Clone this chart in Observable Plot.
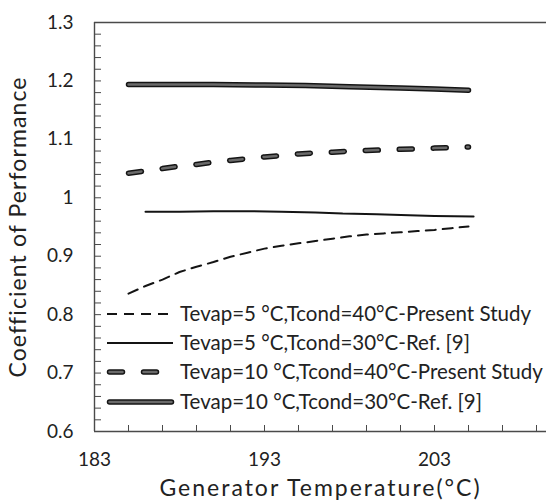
<!DOCTYPE html>
<html><head><meta charset="utf-8">
<script src="https://cdn.jsdelivr.net/npm/d3@7"></script>
<script src="https://cdn.jsdelivr.net/npm/@observablehq/plot@0.6"></script>
<style>
body{margin:0;background:#fff}
#chart{position:relative;width:546px;height:504px;overflow:hidden}
#legend{position:absolute;left:0;top:0}
</style>
</head><body><div id="chart"></div>
<script>
// Present study (Tcond = 40 °C)
const genTemp = [185,186,187,188,189,190,191,192,193,194,195,196,197,198,199,200,201,202,203,204,205];
const copPresent5 = [0.836,0.849,0.860,0.873,0.882,0.890,0.899,0.906,0.913,0.918,0.922,0.926,0.930,0.934,0.937,0.939,0.941,0.943,0.945,0.948,0.951];
const copPresent10 = [1.042,1.046,1.050,1.054,1.057,1.061,1.064,1.067,1.070,1.072,1.075,1.077,1.078,1.080,1.081,1.082,1.083,1.084,1.085,1.086,1.087];
// Ref. [9] (Tcond = 30 °C)
const refTemp5 = [186,188,190,192,194,196,197.6,199.6,201.5,203,205.3];
const copRef5 = [0.976,0.976,0.977,0.977,0.976,0.975,0.973,0.972,0.970,0.969,0.968];
const refTemp10 = [185,190,193,195.4,198,201,203,205];
const copRef10 = [1.194,1.194,1.193,1.192,1.190,1.188,1.186,1.184];

const seriesLabels = [
  "Tevap=5 °C,Tcond=40°C-Present Study",
  "Tevap=5 °C,Tcond=30°C-Ref. [9]",
  "Tevap=10 °C,Tcond=40°C-Present Study",
  "Tevap=10 °C,Tcond=30°C-Ref. [9]"
];
const xTitle = "Generator Temperature(°C)";
const yTitle = "Coefficient of Performance";
const xTickValues = [183,193,203];
const xTickLabels = ["183","193","203"];
const xMinorTicks = [185,187,189,191,193,195,197,199,201,203,205,207,209];
const yTickValues = [0.6,0.7,0.8,0.9,1.0,1.1,1.2,1.3];
const yTickLabels = ["0.6","0.7","0.8","0.9","1","1.1","1.2","1.3"];
const yMinorTicks = d3.range(31, 65).map(i => i / 50);

const rows = (xs, ys) => xs.map((x, i) => ({x, y: ys[i]}));
const p5 = rows(genTemp, copPresent5);
const p10 = rows(genTemp, copPresent10);
const r5 = rows(refTemp5, copRef5);
const r10 = rows(refTemp10, copRef10);

const dark = "#141414", fill = "#6a6a6a", frameC = "#4a4a4a";
const thickDash = "13,21";

const plot = Plot.plot({
  width: 546, height: 504,
  marginLeft: 94, marginRight: 0, marginTop: 22, marginBottom: 73,
  style: {fontFamily: "Lato", fontSize: "19px", color: "#222", background: "white"},
  x: {domain: [183, 183 + 452 / 17]},
  y: {domain: [0.6, 1.3]},
  marks: [
    Plot.ruleY([1.3], {stroke: frameC, strokeWidth: 1.4}),
    Plot.ruleY([0.6], {stroke: frameC, strokeWidth: 1.4}),
    Plot.ruleX([183], {stroke: frameC, strokeWidth: 1.4}),
    Plot.axisX(xMinorTicks, {tickSize: -6, tickFormat: () => "", label: null, stroke: frameC}),
    Plot.axisX(xTickValues, {tickSize: 0, tickPadding: 21, tickFormat: d => xTickLabels[xTickValues.indexOf(d)], label: null, fill: "#222"}),
    Plot.axisY(yMinorTicks, {tickSize: -7, tickFormat: () => "", label: null, stroke: frameC}),
    Plot.axisY(yTickValues, {tickSize: 0, tickPadding: 21, tickFormat: d => yTickLabels[yTickValues.indexOf(d)], label: null, fill: "#222"}),
    Plot.text([xTitle], {frameAnchor: "bottom", textAnchor: "middle", lineAnchor: "middle", dy: 57, fontSize: 23, fill: "#222"}),
    Plot.text([yTitle], {frameAnchor: "left", textAnchor: "middle", lineAnchor: "middle", dx: -76, rotate: -90, fontSize: 23, fill: "#222"}),
    // thin dashed: Tevap=5, present
    Plot.line(p5, {x: "x", y: "y", stroke: dark, strokeWidth: 2, strokeDasharray: "10,7"}),
    // thin solid: Tevap=5, ref
    Plot.line(r5, {x: "x", y: "y", stroke: dark, strokeWidth: 2}),
    // thick dashed: Tevap=10, present
    Plot.line(p10, {x: "x", y: "y", stroke: dark, strokeWidth: 5.5, strokeDasharray: thickDash, strokeLinecap: "round"}),
    Plot.line(p10, {x: "x", y: "y", stroke: fill, strokeWidth: 2.5, strokeDasharray: thickDash, strokeLinecap: "round"}),
    // thick solid: Tevap=10, ref
    Plot.line(r10, {x: "x", y: "y", stroke: dark, strokeWidth: 5.5, strokeLinecap: "round"}),
    Plot.line(r10, {x: "x", y: "y", stroke: fill, strokeWidth: 2.5, strokeLinecap: "round"})
  ]
});
const chart = document.getElementById("chart");
chart.appendChild(plot);

// widen axis titles slightly (reference font is set wider)
d3.select(plot).selectAll("text").each(function() {
  const t = this.textContent;
  if (t === xTitle) this.setAttribute("letter-spacing", "2");
  if (t === yTitle) this.setAttribute("letter-spacing", "1.1");
});

// Legend overlay (inside plot area, lower left)
const styles = [
  [{w: 2, c: dark, dash: "10,7", cap: "butt"}],
  [{w: 2, c: dark, dash: null, cap: "butt"}],
  [{w: 5.5, c: dark, dash: thickDash, cap: "round"}, {w: 2.5, c: fill, dash: thickDash, cap: "round"}],
  [{w: 5.5, c: dark, dash: null, cap: "round"}, {w: 2.5, c: fill, dash: null, cap: "round"}]
];
const rowY = [314, 343, 372, 402];
const lx1 = [107, 107, 109.5, 109.5], lx2 = [173, 173, 171.5, 171.5];
const svg = d3.select(chart).append("svg").attr("id", "legend").attr("width", 546).attr("height", 504);
seriesLabels.forEach((lab, i) => {
  const g = svg.append("g");
  styles[i].forEach(s => {
    g.append("line").attr("x1", lx1[i]).attr("x2", lx2[i]).attr("y1", rowY[i]).attr("y2", rowY[i])
      .attr("stroke", s.c).attr("stroke-width", s.w).attr("stroke-linecap", s.cap)
      .attr("stroke-dasharray", s.dash);
  });
  g.append("text").attr("x", 180).attr("y", rowY[i]).attr("dy", "0.35em")
    .attr("font-family", "Lato").attr("font-size", 20.5).attr("fill", "#222").text(lab);
});
</script>
</body></html>
